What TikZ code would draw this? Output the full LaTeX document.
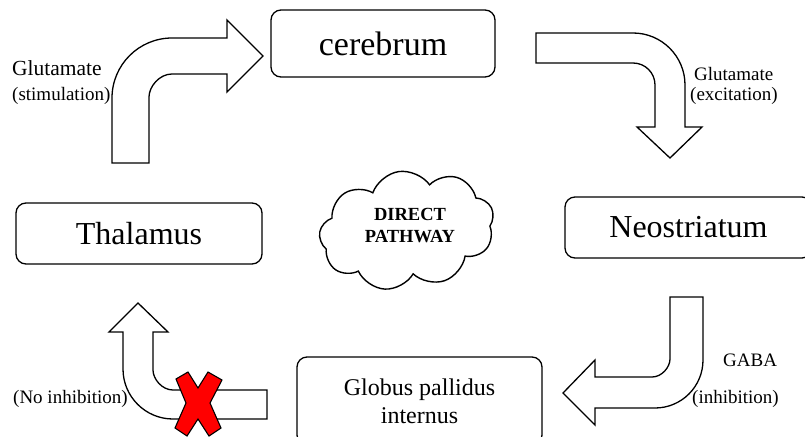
\documentclass[tikz,border=0pt]{standalone}
\usepackage{fontspec}
\setmainfont{Liberation Serif}
\usetikzlibrary{shapes.symbols}
\begin{document}
\begin{tikzpicture}[x=1pt,y=-1pt,
  box/.style={draw, rounded corners=10pt, line width=1.3pt, align=center, inner sep=0pt},
  bigarrow/.style={draw, fill=white, line width=1.3pt, line join=miter},
  lbl/.style={font=\fontsize{19}{22}\selectfont, inner sep=0pt, anchor=base west},
  crossmark/.style={draw=black, fill=red, line width=1.1pt, line join=miter}]
\clip (0,0) rectangle (805,436);
\fill[white] (0,0) rectangle (805,436);

% boxes
\node[box, minimum width=224pt, minimum height=67pt, font=\fontsize{34}{40}\selectfont] (cerebrum) at (383,43.5) {cerebrum};
\node[box, minimum width=246pt, minimum height=61pt, font=\fontsize{32}{38}\selectfont] (thalamus) at (139,233.5) {Thalamus};
\node[box, minimum width=247pt, minimum height=61pt, font=\fontsize{32}{38}\selectfont] (neo) at (688.5,227.5) {Neostriatum};
\node[box, minimum width=245pt, minimum height=88pt, font=\fontsize{24}{28}\selectfont] (gpi) at (419.5,401) {Globus pallidus\\internus};

% cloud
\node[cloud, draw, line width=1.4pt, cloud puffs=9, cloud puff arc=125, cloud ignores aspect,
      minimum width=176pt, minimum height=118pt, inner sep=0pt, rotate=8] (cloud) at (407,230) {};
\node[inner sep=0pt, anchor=base, font=\bfseries\fontsize{18.5}{22}\selectfont] (dp1) at (410,220) {DIRECT};
\node[inner sep=0pt, anchor=base, font=\bfseries\fontsize{18.5}{22}\selectfont] (dp2) at (410,242) {PATHWAY};

% arrow 1: Thalamus -> cerebrum
\draw[bigarrow] (112,163) -- (112,98) .. controls (112,64.9) and (138.9,38) .. (172,38)
  -- (227,38) -- (227,20) -- (263,56) -- (227,92) -- (227,74) -- (172,74)
  .. controls (159.3,74) and (149,86.7) .. (149,97) -- (149,163) -- cycle;

% arrow 2: cerebrum -> Neostriatum
\draw[bigarrow] (536,33) -- (633,33) .. controls (661.7,33) and (685,56.3) .. (685,85)
  -- (685,127) -- (702,127) -- (670,158) -- (637,127) -- (655,127) -- (655,85)
  .. controls (655,72.8) and (645.2,63) .. (633,63) -- (536,63) -- cycle;

% arrow 3: Neostriatum -> Globus pallidus
\draw[bigarrow] (670,297) -- (703,297) -- (703,360) .. controls (703,386.5) and (681.5,408) .. (655,408)
  -- (595,408) -- (595,425) -- (563,393) -- (595,360) -- (595,377) -- (652,377)
  .. controls (661.9,377) and (670,367.1) .. (670,359) -- cycle;

% arrow 4: Globus pallidus -> Thalamus
\draw[bigarrow] (267,390) -- (173,390) .. controls (162,390) and (153,379) .. (153,370)
  -- (153,332) -- (168,332) -- (138,303) -- (109,332) -- (123,332) -- (123,369)
  .. controls (123,396.6) and (145.4,419) .. (173,419) -- (267,419) -- cycle;

% red cross
\draw[crossmark] (176,379) -- (188,372) -- (198,388) -- (208,372) -- (222,380) -- (210,403)
  -- (221,428) -- (209,436) -- (198,419) -- (187,436) -- (175,428) -- (186,403) -- cycle;

% labels
\node[lbl, font=\fontsize{21.5}{24}\selectfont] (l1a) at (12,75) {Glutamate};
\node[lbl] (l1b) at (12,100) {(stimulation)};
\node[lbl] (l2a) at (694,80) {Glutamate};
\node[lbl] (l2b) at (690,100) {(excitation)};
\node[lbl] (l3a) at (723,366) {GABA};
\node[lbl] (l3b) at (692,403) {(inhibition)};
\node[lbl] (l4) at (13,403) {(No inhibition)};
\end{tikzpicture}
\end{document}
